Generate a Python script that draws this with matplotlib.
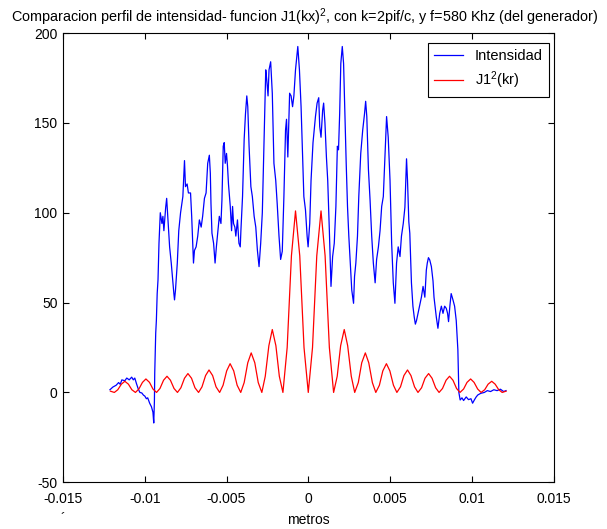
# Perfil de intensidad vs J1(kr)^2
import numpy as np
import matplotlib
matplotlib.use('Agg')
import matplotlib.pyplot as plt

# Intensidad medida (posicion en mm, intensidad)
blue_x_mm = [
    -12.13, -11.95, -11.75, -11.60, -11.50, -11.40, -11.22, -11.10, -10.95, -10.80,
    -10.70, -10.61, -10.51, -10.40, -10.30, -10.18, -10.08, -10.00, -9.90, -9.82,
    -9.70, -9.59, -9.50, -9.45, -9.41, -9.39, -9.33, -9.29, -9.24, -9.19,
    -9.13, -9.05, -8.95, -8.89, -8.83, -8.72, -8.66, -8.58, -8.48, -8.38,
    -8.28, -8.22, -8.18, -8.12, -8.01, -7.92, -7.81, -7.67, -7.57, -7.51,
    -7.41, -7.33, -7.20, -7.13, -7.02, -6.96, -6.86, -6.76, -6.66, -6.55,
    -6.46, -6.35, -6.25, -6.15, -6.05, -5.99, -5.95, -5.89, -5.79, -5.70,
    -5.62, -5.54, -5.44, -5.34, -5.28, -5.20, -5.14, -5.08, -5.00, -4.94,
    -4.88, -4.77, -4.69, -4.63, -4.57, -4.49, -4.43, -4.33, -4.24, -4.16,
    -4.12, -4.02, -3.92, -3.84, -3.76, -3.70, -3.62, -3.51, -3.42, -3.31,
    -3.21, -3.11, -3.01, -2.91, -2.81, -2.71, -2.60, -2.54, -2.46, -2.40,
    -2.30, -2.20, -2.10, -1.99, -1.90, -1.79, -1.69, -1.59, -1.49, -1.39,
    -1.33, -1.25, -1.14, -1.05, -0.96, -0.88, -0.78, -0.72, -0.64, -0.54,
    -0.44, -0.33, -0.27, -0.17, -0.07, -0.01, 0.09, 0.17, 0.29, 0.44,
    0.54, 0.64, 0.70, 0.78, 0.88, 0.94, 1.02, 1.11, 1.19, 1.29,
    1.39, 1.49, 1.59, 1.69, 1.78, 1.85, 1.92, 1.99, 2.08, 2.16,
    2.24, 2.32, 2.40, 2.48, 2.57, 2.66, 2.77, 2.83, 2.91, 3.01,
    3.09, 3.21, 3.33, 3.44, 3.51, 3.58, 3.68, 3.78, 3.88, 3.98,
    4.09, 4.18, 4.29, 4.39, 4.49, 4.59, 4.69, 4.79, 4.89, 5.00,
    5.10, 5.20, 5.30, 5.40, 5.50, 5.61, 5.70, 5.81, 5.91, 6.01,
    6.07, 6.15, 6.21, 6.31, 6.40, 6.48, 6.55, 6.62, 6.76, 6.92,
    7.02, 7.13, 7.22, 7.28, 7.35, 7.43, 7.53, 7.63, 7.69, 7.78,
    7.83, 7.93, 8.04, 8.14, 8.24, 8.34, 8.44, 8.52, 8.58, 8.66,
    8.74, 8.85, 8.95, 9.05, 9.11, 9.15, 9.21, 9.29, 9.40, 9.50,
    9.66, 9.80, 9.95, 10.05, 10.17, 10.27, 10.37, 10.55, 10.77, 10.95,
    11.15, 11.35, 11.55, 11.75, 11.95, 12.09,
]
blue_y = [
    1.5, 3, 4, 5.5, 4.5, 7, 6.5, 8, 7, 8.5,
    7, 8, 5, 2, 0, -0.3, -1.5, -2, -3.5, -3,
    -6, -8, -11, -17, -5, 10.7, 33, 40, 55, 62.6,
    83, 100, 94, 98, 90, 103, 108, 96, 81, 72,
    61, 55, 51.5, 57, 72, 90, 100, 109, 129, 114.5,
    116, 111, 111, 98, 72, 79, 81, 87, 96, 92,
    98, 108, 111, 127.5, 132, 122, 105, 88.6, 83, 72,
    81, 88.6, 98, 94, 107, 137, 139, 127.5, 133, 126,
    116, 103.5, 90, 103.5, 94, 92, 87, 96, 83, 81,
    90, 109, 141, 155, 165, 159, 137, 114.5, 109, 98,
    92, 79, 70, 83, 100, 137, 179.5, 174, 165, 179.5,
    184, 166.5, 127.5, 118, 105, 87, 74, 78.5, 109, 146,
    152, 131, 166.5, 165, 159, 165, 179.5, 185, 192.5, 179.5,
    159, 127.5, 109, 101.5, 87, 81, 94, 118, 139, 153.5,
    161, 164, 148, 142, 157, 161, 150, 131, 118, 90,
    59, 75.6, 83, 103.5, 137, 135, 155, 183, 192.5, 183,
    155, 127.5, 103.5, 87, 72, 57, 49.6, 64.5, 72, 87,
    109, 133, 146, 155, 162, 153.5, 124, 107, 87, 72,
    61, 74, 81, 90, 103.5, 109, 131, 153.5, 142, 118,
    83, 61, 49.6, 72, 81, 75.6, 87, 94, 103, 130,
    118, 95, 88.6, 61, 48, 42, 38, 40, 46, 53,
    59, 53, 68, 72, 75, 73.7, 70, 62, 53, 46,
    42, 35.7, 44, 48, 44, 48, 46.8, 44, 39.4, 48,
    55, 51.5, 48, 40, 30, 23.7, 0, -4.2, -3, -4.5,
    -2.5, -4, -3.5, -6, -4, -2.5, -1.4, -0.5, 0, 1,
    0.5, 1.5, 1, 1.8, 0.5, 1.0,
]

# J1(kr)^2 escalada (posicion en mm, valor)
red_x_mm = [
    -12.10, -11.86, -11.65, -11.43, -11.22, -11.00, -10.79, -10.57, -10.36, -10.14,
    -9.93, -9.71, -9.50, -9.28, -9.07, -8.85, -8.64, -8.43, -8.21, -8.00,
    -7.79, -7.57, -7.36, -7.14, -6.93, -6.71, -6.50, -6.28, -6.07, -5.85,
    -5.64, -5.42, -5.21, -4.99, -4.78, -4.56, -4.35, -4.13, -3.92, -3.70,
    -3.49, -3.27, -3.06, -2.84, -2.63, -2.41, -2.20, -1.98, -1.77, -1.55,
    -1.29, -1.03, -0.78, -0.52, -0.26, 0.00, 0.26, 0.52, 0.78, 1.03,
    1.29, 1.55, 1.77, 1.98, 2.20, 2.41, 2.63, 2.84, 3.06, 3.27,
    3.49, 3.70, 3.92, 4.13, 4.35, 4.56, 4.78, 4.99, 5.21, 5.42,
    5.64, 5.85, 6.07, 6.28, 6.50, 6.71, 6.93, 7.14, 7.36, 7.57,
    7.79, 8.00, 8.21, 8.43, 8.64, 8.85, 9.07, 9.28, 9.50, 9.71,
    9.93, 10.14, 10.36, 10.57, 10.79, 11.00, 11.22, 11.43, 11.65, 11.86,
    12.10,
]
red_y = [
    0.7, 0, 1.5, 4.6, 6.2, 4.6, 1.5, 0, 1.9, 5.6,
    7.5, 5.6, 1.9, 0, 2.2, 6.8, 9, 6.8, 2.2, 0,
    2.6, 7.9, 10.5, 7.9, 2.6, 0, 3.1, 9.4, 12.5, 9.4,
    3.1, 0, 4, 12, 16, 12, 4, 0, 5.5, 16.5,
    22, 16.5, 5.5, 0, 9, 26, 35, 26, 9, 0,
    25, 76, 101, 76, 25, 0, 25, 76, 101, 76,
    25, 0, 9, 26, 35, 26, 9, 0, 5.5, 16.5,
    22, 16.5, 5.5, 0, 4, 12, 16, 12, 4, 0,
    3.1, 9.4, 12.5, 9.4, 3.1, 0, 2.6, 7.9, 10.5, 7.9,
    2.6, 0, 2.2, 6.8, 9, 6.8, 2.2, 0, 1.9, 5.6,
    7.5, 5.6, 1.9, 0, 1.5, 4.6, 6.2, 4.6, 1.5, 0,
    0.7,
]

x_ticks = [-0.015, -0.01, -0.005, 0, 0.005, 0.01, 0.015]
x_tick_labels = ['-0.015', '-0.01', '-0.005', '0', '0.005', '0.01', '0.015']
y_ticks = [-50, 0, 50, 100, 150, 200]
y_tick_labels = ['-50', '0', '50', '100', '150', '200']

plt.rcParams['font.family'] = ['Liberation Sans', 'DejaVu Sans']
plt.rcParams['mathtext.fontset'] = 'custom'
plt.rcParams['mathtext.rm'] = 'Liberation Sans'
plt.rcParams['mathtext.it'] = 'Liberation Sans:italic'
plt.rcParams['mathtext.bf'] = 'Liberation Sans:bold'

fig = plt.figure(figsize=(6.07, 5.29), dpi=100)
ax = fig.add_axes([0.1038, 0.0883, 0.8081, 0.8493])

blue_x = np.array(blue_x_mm) * 1e-3     # mm -> metros
red_x = np.array(red_x_mm) * 1e-3
ax.plot(blue_x, blue_y, color='#0000ff', lw=0.9, label='Intensidad')
ax.plot(red_x, red_y, color='#ff0000', lw=0.9, label='J1$^2$(kr)')

ax.set_xlim(-0.015, 0.015)
ax.set_ylim(-50, 200)
ax.set_xticks(x_ticks)
ax.set_xticklabels(x_tick_labels)
ax.set_yticks(y_ticks)
ax.set_yticklabels(y_tick_labels)
ax.tick_params(direction='in', top=True, right=True, length=4, width=0.8,
               labelsize=10, pad=4)
ax.tick_params(axis='x', pad=7)
for sp in ax.spines.values():
    sp.set_linewidth(0.8)

ax.set_title('Comparacion perfil de intensidad- funcion J1(kx)$^2$, con k=2pif/c, '
             'y f=580 Khz (del generador)', fontsize=10.4, pad=8, x=0.492)
ax.set_xlabel('metros', fontsize=10, labelpad=5)

leg = ax.legend(loc='upper right', bbox_to_anchor=(0.991, 0.978), borderaxespad=0,
                fancybox=False, edgecolor='black', framealpha=1, fontsize=10.5,
                handlelength=2.0, handletextpad=0.8, labelspacing=0.45, borderpad=0.42)
leg.get_frame().set_linewidth(0.8)

fig.text(0.1, 0.012, '\u00b4', fontsize=10)

fig.savefig('out.png', dpi=100)
